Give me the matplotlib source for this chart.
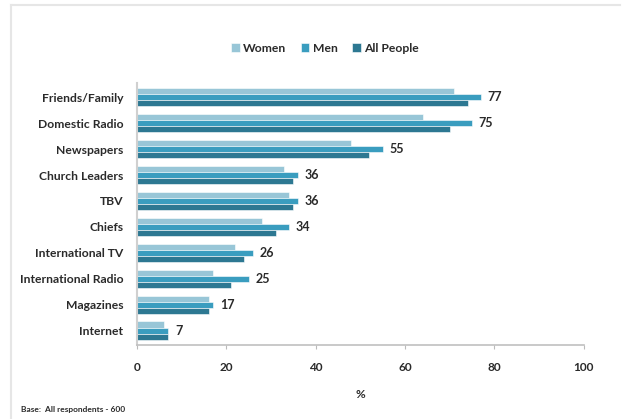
import numpy as np
import matplotlib.pyplot as plt
from matplotlib.lines import Line2D

plt.rcParams['font.family'] = ['Lato', 'DejaVu Sans']

sources = ['Friends/Family', 'Domestic Radio', 'Newspapers', 'Church Leaders', 'TBV',
           'Chiefs', 'International TV', 'International Radio', 'Magazines', 'Internet']
women = [71, 64, 48, 33, 34, 28, 22, 17, 16, 6]
men = [77, 75, 55, 36, 36, 34, 26, 25, 17, 7]
all_people = [74, 70, 52, 35, 35, 31, 24, 21, 16, 7]

c_women = '#98c6d7'
c_men = '#3a9dbf'
c_all = '#2d7892'
txt = '#2a2a2a'

fig = plt.figure(figsize=(6.23, 4.19), dpi=100)
ax = fig.add_axes([0.22, 0.177, 0.717, 0.625])

y = np.arange(len(sources))
h = 0.235
ax.barh(y - h, women, height=h, color=c_women, edgecolor='white', linewidth=0.4, label='Women')
ax.barh(y, men, height=h, color=c_men, edgecolor='white', linewidth=0.4, label='Men')
ax.barh(y + h, all_people, height=h, color=c_all, edgecolor='white', linewidth=0.4, label='All People')

for yi, v in zip(y, men):
    ax.text(v + 1.5, yi, str(v), va='center', ha='left', fontsize=9,
            fontweight='bold', color=txt)

ax.set_xlim(0, 100)
ax.set_ylim(len(sources) - 0.45, -0.55)
ax.set_xticks(range(0, 101, 20))
ax.set_yticks(y)
ax.set_yticklabels(sources, fontsize=8.7, fontweight='bold', color=txt)
ax.tick_params(axis='y', length=0, pad=10)
ax.tick_params(axis='x', length=3, color='#bbbbbb', labelsize=8.5, labelcolor=txt, pad=9)
for lab in ax.get_xticklabels():
    lab.set_fontweight('bold')
ax.set_xlabel('%', fontsize=8.5, color=txt, fontweight='bold', labelpad=12)

for s in ['top', 'right']:
    ax.spines[s].set_visible(False)
ax.spines['left'].set_color('#d0d0d0')
ax.spines['left'].set_linewidth(1.5)
ax.spines['bottom'].set_color('#c0c0c0')
ax.spines['bottom'].set_linewidth(1.2)

leg = fig.legend(loc='center', bbox_to_anchor=(0.522, 0.885), ncol=3, frameon=False,
                 fontsize=8.7, handlelength=0.7, handleheight=0.7, handletextpad=0.3,
                 columnspacing=1.2)
for t in leg.get_texts():
    t.set_fontweight('bold')
    t.set_color(txt)

fig.text(0.033, 0.016, 'Base:  All respondents - 600', fontsize=6,
         fontweight='bold', color=txt)

# chart frame edges
fig.add_artist(Line2D([0.017, 0.995], [0.988, 0.988], color='#e6e6e6', lw=1.5,
                      transform=fig.transFigure))
fig.add_artist(Line2D([0.017, 0.017], [0.0, 0.988], color='#e6e6e6', lw=1.5,
                      transform=fig.transFigure))

fig.savefig('out.png', dpi=100)
